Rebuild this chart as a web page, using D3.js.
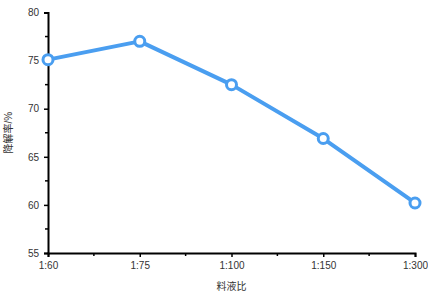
<!DOCTYPE html>
<html><head><meta charset="utf-8">
<script src="https://cdn.jsdelivr.net/npm/d3@7/dist/d3.min.js"></script>
<style>body{margin:0;background:#fff}svg{display:block}text{font-family:"Helvetica Neue",Helvetica,"Liberation Sans",Arial,"Noto Sans CJK SC",sans-serif}</style>
</head><body><svg id="c" width="428" height="293"></svg>
<script>
const categories = ["1:60","1:75","1:100","1:150","1:300"];
const values = [75.1, 77.0, 72.5, 66.9, 60.2];
const yTicks = [55,60,65,70,75,80];
const yMinor = [57.5,62.5,67.5,72.5,77.5];
const xLabel = "料液比";
const yLabel = "降解率/%";

const svg = d3.select("#c");
const L=48, R=415, T=12.5, B=253;
const x = d3.scalePoint().domain(categories).range([L,R]).padding(0);
const y = d3.scaleLinear().domain([55,80]).range([B,T]);
const col = "#4a9ef0";

// minor ticks
svg.append("g").selectAll("line").data(yMinor).join("line")
  .attr("x1",L-3).attr("x2",L).attr("y1",d=>y(d)).attr("y2",d=>y(d))
  .attr("stroke","#000").attr("stroke-width",1.5);
const xMid = d3.pairs(categories).map(([a,b])=>(x(a)+x(b))/2);
svg.append("g").selectAll("line").data(xMid).join("line")
  .attr("x1",d=>d).attr("x2",d=>d).attr("y1",B).attr("y2",B+3)
  .attr("stroke","#000").attr("stroke-width",1.5);

const yAxis = svg.append("g").attr("transform",`translate(${L},0)`)
  .call(d3.axisLeft(y).tickValues(yTicks).tickSize(4).tickPadding(5));
const xAxis = svg.append("g").attr("transform",`translate(0,${B})`)
  .call(d3.axisBottom(x).tickSize(4).tickPadding(5));
[yAxis,xAxis].forEach(g=>{
  g.select(".domain").attr("stroke","#000").attr("stroke-width",2);
  g.selectAll(".tick line").attr("stroke","#000").attr("stroke-width",1.5);
  g.selectAll(".tick text").attr("fill","#333").style("font-size","10px");
});

const pts = categories.map((c,i)=>[x(c),y(values[i])]);
svg.append("path").attr("d",d3.line()(pts)).attr("fill","none")
  .attr("stroke",col).attr("stroke-width",4).attr("stroke-linejoin","round");
svg.append("g").selectAll("circle").data(pts).join("circle")
  .attr("cx",d=>d[0]).attr("cy",d=>d[1]).attr("r",5)
  .attr("fill","#fff").attr("stroke",col).attr("stroke-width",3);

svg.append("text").attr("x",(L+R)/2).attr("y",290).attr("text-anchor","middle")
  .attr("fill","#333").style("font-size","10px").text(xLabel);
svg.append("text").attr("transform",`translate(12,${(T+B)/2}) rotate(-90)`)
  .attr("text-anchor","middle").attr("fill","#333").style("font-size","10px").text(yLabel);
</script></body></html>
